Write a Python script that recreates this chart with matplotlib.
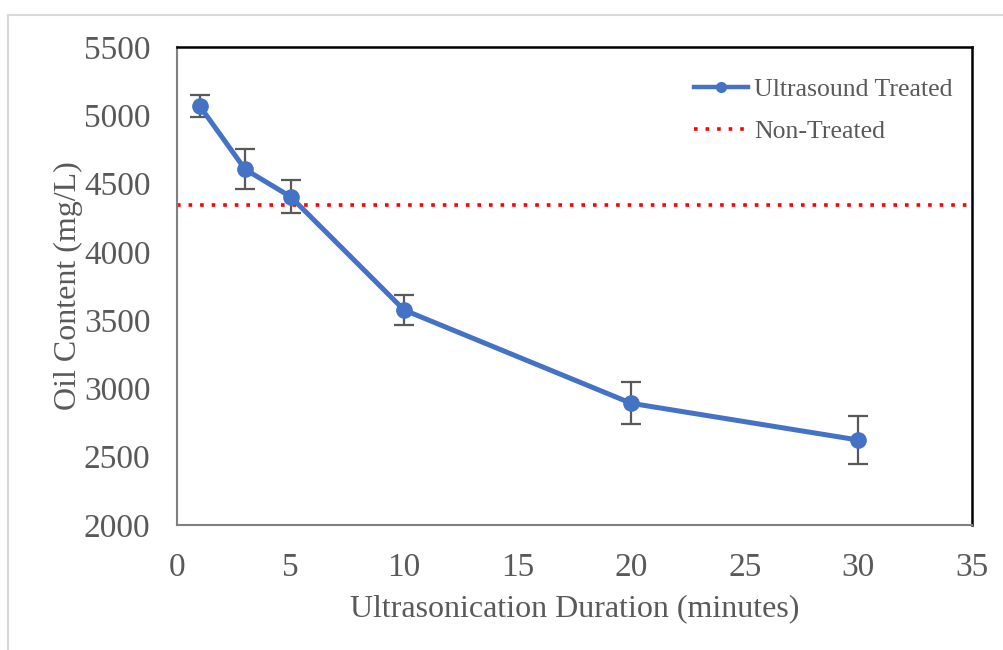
import matplotlib.pyplot as plt
from matplotlib.lines import Line2D

# data
duration = [1, 3, 5, 10, 20, 30]
oil_treated = [5068, 4604, 4404, 3574, 2891, 2622]
oil_err = [84, 146, 120, 107, 155, 177]
non_treated = 4341

x_ticks = [0, 5, 10, 15, 20, 25, 30, 35]
y_ticks = [2000, 2500, 3000, 3500, 4000, 4500, 5000, 5500]

plt.rcParams['font.family'] = ['Liberation Serif', 'DejaVu Serif']
text_grey = '#595959'
blue = '#4472C4'

fig = plt.figure(figsize=(10.04, 6.5), dpi=100)
ax = fig.add_axes([177 / 1004, 1 - 525 / 650, (972 - 177) / 1004, (525 - 47) / 650])

# light outer border of the chart area
fig.add_artist(Line2D([8 / 1004, 1], [1 - 15 / 650, 1 - 15 / 650],
                      transform=fig.transFigure, color='#d9d9d9', lw=1.5))
fig.add_artist(Line2D([8 / 1004, 8 / 1004], [0, 1 - 15 / 650],
                      transform=fig.transFigure, color='#d9d9d9', lw=1.5))

ax.errorbar(duration, oil_treated, yerr=oil_err, color=blue, lw=3.6,
            marker='o', markersize=11, ecolor='#595959', elinewidth=1.6,
            capsize=7, capthick=1.6, zorder=3)
ax.axhline(non_treated, color='#FF0000', lw=2.6, ls=(0, (1, 2.2)), zorder=2)

ax.set_xlim(0, 35)
ax.set_ylim(2000, 5500)
ax.set_xticks(x_ticks)
ax.set_yticks(y_ticks)
ax.tick_params(length=0, labelsize=24, labelcolor=text_grey)
ax.tick_params(axis='y', pad=19)
ax.tick_params(axis='x', pad=20)

ax.set_xlabel('Ultrasonication Duration (minutes)', fontsize=23,
              color=text_grey, labelpad=8)
ax.set_ylabel('Oil Content (mg/L)', fontsize=23, color=text_grey, labelpad=1)

for side in ['left', 'bottom']:
    ax.spines[side].set_color('#808080')
    ax.spines[side].set_linewidth(1.5)
for side in ['top', 'right']:
    ax.spines[side].set_color('black')
    ax.spines[side].set_linewidth(1.8)

handles = [
    Line2D([], [], color=blue, lw=3.2, marker='o', markersize=7),
    Line2D([], [], color='#FF0000', lw=2.6, ls=(0, (1, 2.2))),
]
leg = ax.legend(handles, ['Ultrasound Treated', 'Non-Treated'],
                loc='upper right', bbox_to_anchor=(1, 0.975), frameon=False,
                fontsize=18.5, handlelength=2.1, handletextpad=0.25,
                labelspacing=0.72, borderaxespad=0.35)
for t in leg.get_texts():
    t.set_color(text_grey)

fig.savefig('out.png', dpi=100)
